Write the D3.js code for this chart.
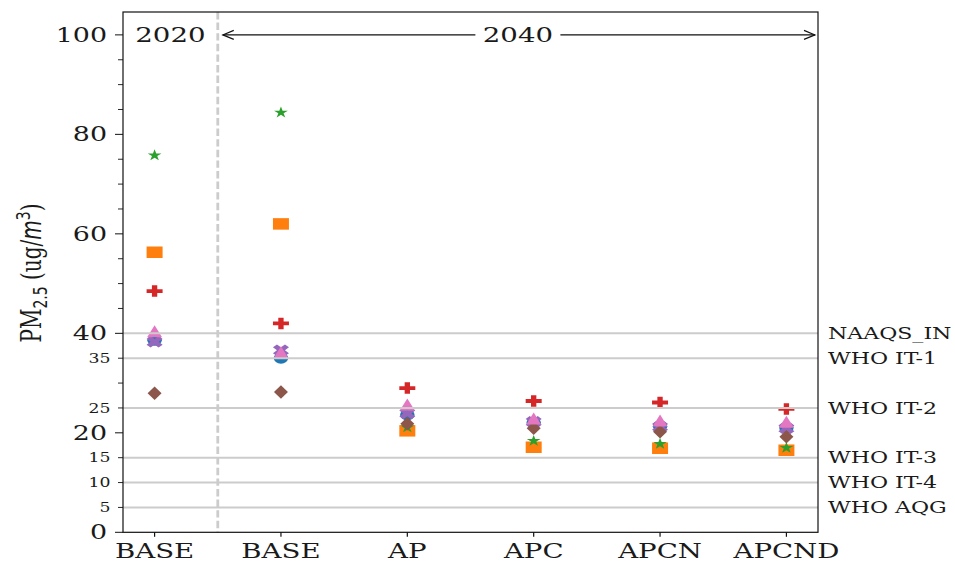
<!DOCTYPE html>
<html><head><meta charset="utf-8">
<script src="https://cdn.jsdelivr.net/npm/d3@7"></script>
<style>html,body{margin:0;padding:0;background:#fff;}svg{display:block;}</style>
</head><body>
<svg id="chart" width="955" height="562"></svg>
<script>
// ---------- data ----------
const categories = ["BASE", "BASE", "AP", "APC", "APCN", "APCND"];
const seriesBlue   = [38.6, 35.0, 23.6, 22.0, 21.3, 21.0];
const seriesOrange = [56.3, 62.0, 20.4, 17.1, 16.9, 16.5];
const seriesGreen  = [75.9, 84.5, 21.2, 18.5, 17.9, 17.1];
const seriesRed    = [48.5, 42.0, 29.0, 26.4, 26.1, 24.8];
const seriesPurple = [38.3, 36.6, 23.9, 22.2, 21.2, 20.9];
const seriesBrown  = [27.95, 28.2, 21.8, 20.9, 20.2, 19.2];
const seriesPink   = [40.4, 36.2, 25.7, 22.9, 22.5, 22.2];
const thresholdValues = [40, 35, 25, 15, 10, 5];
const thresholdLabels = ["NAAQS_IN", "WHO IT-1", "WHO IT-2", "WHO IT-3", "WHO IT-4", "WHO AQG"];
const majorTicks = [0, 20, 40, 60, 80, 100];
const labeledMinorTicks = [5, 10, 15, 25, 35];
const minorTicks = [5, 10, 15, 25, 30, 35, 45, 50, 55, 65, 70, 75, 85, 90, 95];
const periodLabels = ["2020", "2040"];

// ---------- setup ----------
const SX = 1.38; // horizontal stretch of the reference
const serif = "'DejaVu Serif', serif";
const sans = "'DejaVu Sans', sans-serif";
const svg = d3.select("#chart");
const L = 123, R = 818, T = 12, B = 532.3;
const x = d3.scaleLinear().domain([-0.25, 5.25]).range([L, R]);
const y = d3.scaleLinear().domain([0, 104.6]).range([B, T]);
const gray = "#cccccc";

function stext(g, px, py, str, size, anchor, extra) {
  const t = g.append("text")
    .attr("transform", `translate(${px},${py}) scale(${SX},1)`)
    .attr("font-family", serif).attr("font-size", size)
    .attr("text-anchor", anchor).attr("fill", "#1a1a1a")
    .text(str);
  if (extra) extra(t);
  return t;
}

// unit-box marker paths
const shapes = {};
(function(){ const p = d3.path(); p.arc(0,0,0.5,0,2*Math.PI); shapes.circle = p.toString(); })();
shapes.square = "M-0.5,-0.5L0.5,-0.5L0.5,0.5L-0.5,0.5Z";
shapes.diamond = "M0,-0.5L0.5,0L0,0.5L-0.5,0Z";
shapes.triangle = "M0,-0.5L0.5,0.5L-0.5,0.5Z";
(function(){
  const pts = [];
  for (let i = 0; i < 10; i++) {
    const r = i % 2 === 0 ? 0.5 : 0.5 * 0.381966;
    const a = -Math.PI / 2 + i * Math.PI / 5;
    pts.push([r * Math.cos(a), r * Math.sin(a) + 0.05]);
  }
  shapes.star = "M" + pts.map(p => p.join(",")).join("L") + "Z";
  const plus = [[-1,-3],[1,-3],[1,-1],[3,-1],[3,1],[1,1],[1,3],[-1,3],[-1,1],[-3,1],[-3,-1],[-1,-1]].map(p => [p[0]/6, p[1]/6]);
  shapes.plus = "M" + plus.map(p => p.join(",")).join("L") + "Z";
  const c = Math.SQRT1_2 / 0.94;
  const xs = plus.map(p => [(p[0] - p[1]) * c, (p[0] + p[1]) * c]);
  shapes.x = "M" + xs.map(p => p.join(",")).join("L") + "Z";
})();

const series = [
  {values: seriesBlue,   color: "#1f77b4", shape: "circle",   w: 14.5, h: 11},
  {values: seriesOrange, color: "#ff7f0e", shape: "square",   w: 16,   h: 11.5},
  {values: seriesGreen,  color: "#2ca02c", shape: "star",     w: 14.5, h: 12},
  {values: seriesRed,    color: "#d62728", shape: "plus",     w: 16,   h: 11.5},
  {values: seriesPurple, color: "#9467bd", shape: "x",        w: 16,   h: 11.5},
  {values: seriesBrown,  color: "#8c564b", shape: "diamond",  w: 14,   h: 13.5},
  {values: seriesPink,   color: "#e377c2", shape: "triangle", w: 15,   h: 12}
];

// ---------- markers ----------
const gm = svg.append("g");
series.forEach(s => {
  gm.selectAll(null).data(s.values).enter().append("path")
    .attr("d", shapes[s.shape])
    .attr("transform", (d, i) => `translate(${x(i)},${y(d)}) scale(${s.w},${s.h})`)
    .attr("fill", s.color);
});

// ---------- reference lines ----------
const gl = svg.append("g");
gl.selectAll(null).data(thresholdValues).enter().append("line")
  .attr("x1", L).attr("x2", R)
  .attr("y1", d => y(d)).attr("y2", d => y(d))
  .attr("stroke", gray).attr("stroke-width", 2);
gl.append("line")
  .attr("x1", x(0.5)).attr("x2", x(0.5)).attr("y1", T).attr("y2", B)
  .attr("stroke", gray).attr("stroke-width", 2.8).attr("stroke-dasharray", "7.4,3.2");

// threshold labels
thresholdValues.forEach((v, i) => {
  stext(svg, R + 10, y(v), thresholdLabels[i], 16, "start", t => t.attr("dy", "0.36em"));
});

// ---------- axes ----------
const ga = svg.append("g");
ga.append("rect").attr("x", L).attr("y", T).attr("width", R - L).attr("height", B - T)
  .attr("fill", "none").attr("stroke", "#111").attr("stroke-width", 1.2);
// y ticks
ga.selectAll(null).data(majorTicks).enter().append("line")
  .attr("x1", L - 8).attr("x2", L).attr("y1", d => y(d)).attr("y2", d => y(d))
  .attr("stroke", "#111").attr("stroke-width", 1);
ga.selectAll(null).data(minorTicks).enter().append("line")
  .attr("x1", L - 5).attr("x2", L).attr("y1", d => y(d)).attr("y2", d => y(d))
  .attr("stroke", "#111").attr("stroke-width", 0.9);
majorTicks.forEach(v => stext(ga, L - 16, y(v), String(v), 19.5, "end", t => t.attr("dy", "0.365em")));
labeledMinorTicks.forEach(v => stext(ga, L - 12.5, y(v), String(v), 12.5, "end", t => t.attr("dy", "0.365em")));
// x ticks
categories.forEach((c, i) => {
  ga.append("line").attr("x1", x(i)).attr("x2", x(i)).attr("y1", B).attr("y2", B + 4.5)
    .attr("stroke", "#111").attr("stroke-width", 1.2);
  stext(ga, x(i), 557.5, c, 20, "middle");
});

// y label
const yl = svg.append("text")
  .attr("transform", `translate(41,273) scale(${SX},1) rotate(-90)`)
  .attr("text-anchor", "middle").attr("font-family", serif).attr("font-size", 20).attr("fill", "#1a1a1a");
yl.append("tspan").text("PM");
yl.append("tspan").attr("font-family", sans).attr("font-size", 14).attr("dy", 4).text("2.5");
yl.append("tspan").attr("dy", -4).text(" (ug/");
yl.append("tspan").attr("font-family", sans).attr("font-style", "italic").text("m");
yl.append("tspan").attr("font-family", sans).attr("font-size", 14).attr("dy", -8).text("3");
yl.append("tspan").attr("dy", 8).text(")");

// ---------- period annotations ----------
stext(svg, x(0.125), y(100), periodLabels[0], 20, "middle", t => t.attr("dy", "0.365em"));
const ay = y(100);
const ax1 = x(0.5) + 5, ax2 = R - 3;
svg.append("line").attr("x1", ax1).attr("x2", ax2).attr("y1", ay).attr("y2", ay)
  .attr("stroke", "#111").attr("stroke-width", 1.1);
svg.append("path").attr("d", `M${ax1 + 11},${ay - 4.5}L${ax1},${ay}L${ax1 + 11},${ay + 4.5}`)
  .attr("fill", "none").attr("stroke", "#111").attr("stroke-width", 1.1);
svg.append("path").attr("d", `M${ax2 - 11},${ay - 4.5}L${ax2},${ay}L${ax2 - 11},${ay + 4.5}`)
  .attr("fill", "none").attr("stroke", "#111").attr("stroke-width", 1.1);
svg.append("rect").attr("x", x(2.875) - 42.5).attr("y", ay - 13).attr("width", 85).attr("height", 26).attr("fill", "#fff");
stext(svg, x(2.875), ay, periodLabels[1], 20, "middle", t => t.attr("dy", "0.365em"));
</script>
</body></html>
